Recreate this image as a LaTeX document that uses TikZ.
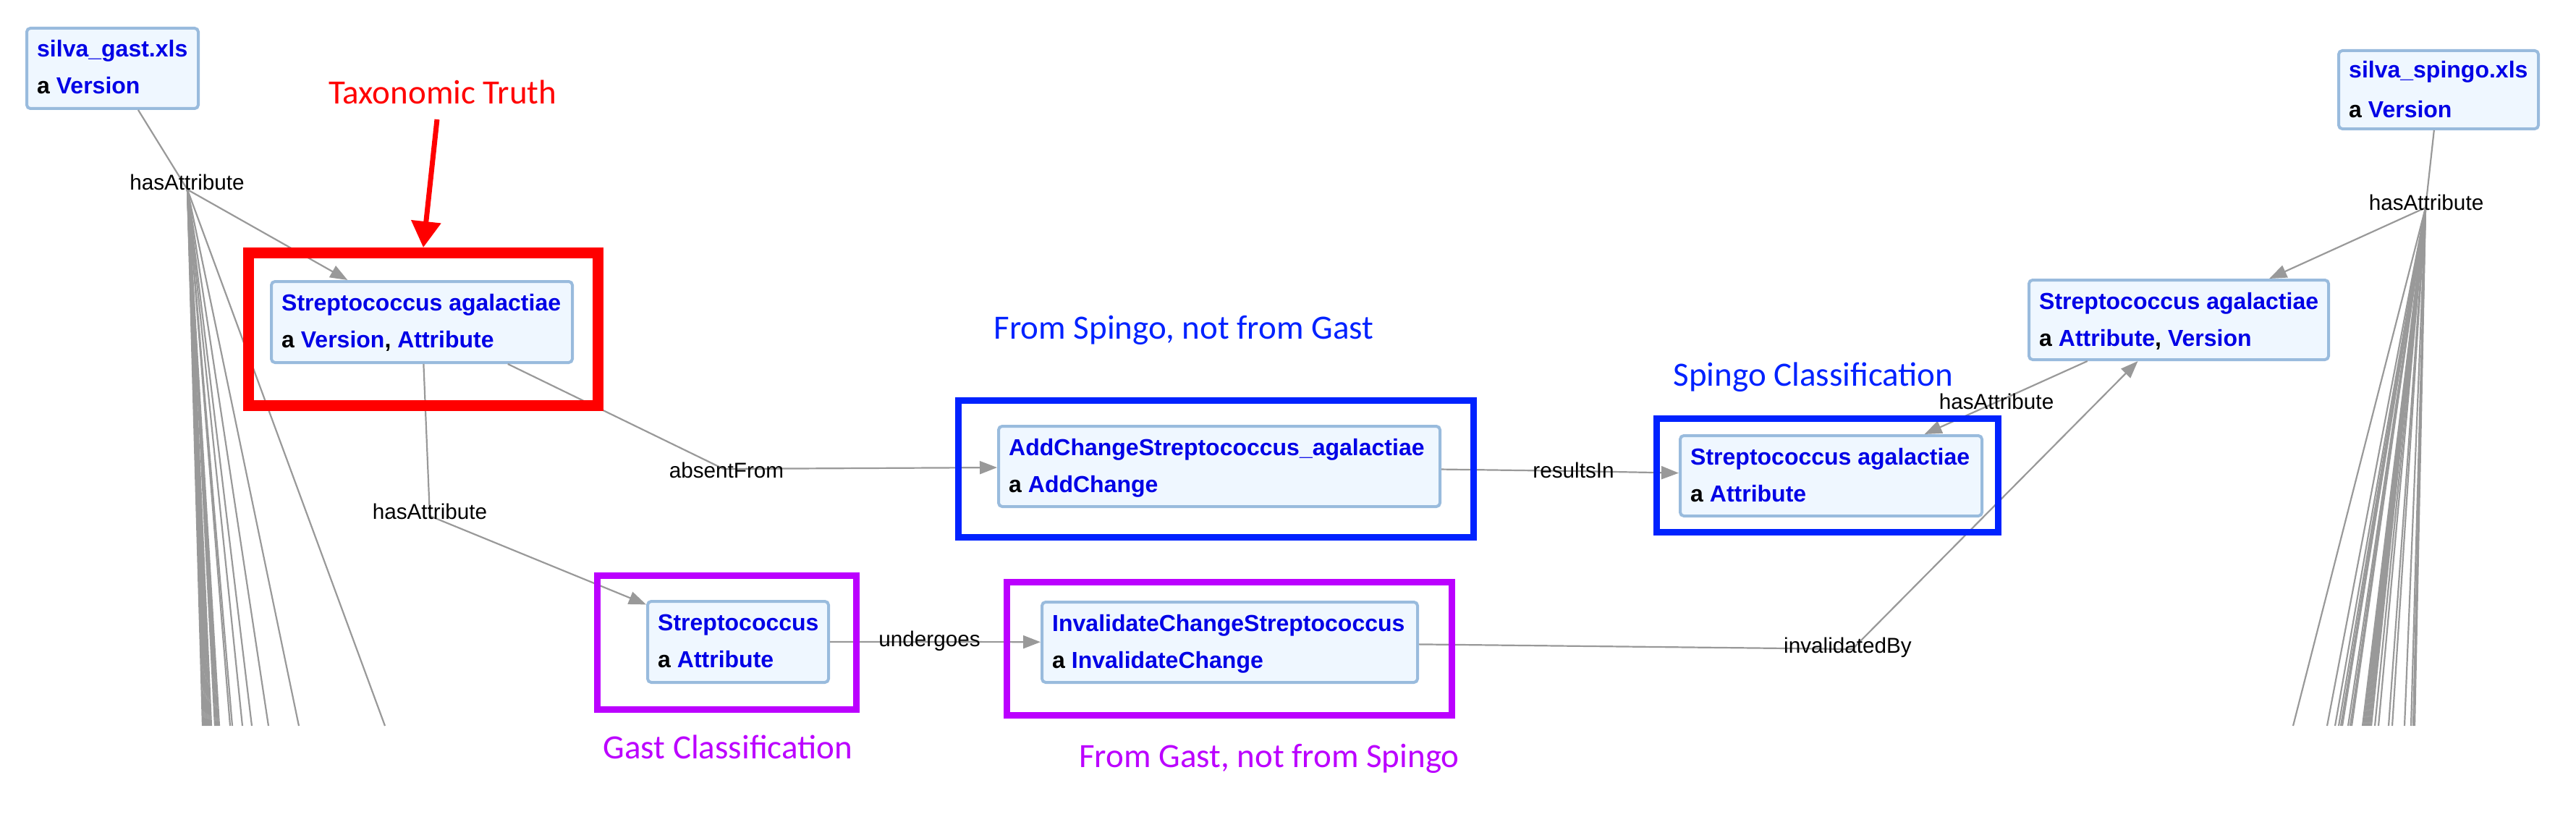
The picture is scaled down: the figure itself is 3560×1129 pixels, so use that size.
\documentclass[tikz,border=0pt]{standalone}
\usepackage{fontspec}
\setmainfont{Liberation Sans}
\newfontfamily\annfont{Carlito}
\usetikzlibrary{arrows.meta,calc}
\definecolor{nodeblue}{RGB}{0,0,230}
\definecolor{nodeborder}{RGB}{153,187,221}
\definecolor{nodefill}{RGB}{239,247,255}
\definecolor{edgegray}{RGB}{153,153,153}
\definecolor{annblue}{RGB}{0,34,255}
\definecolor{annpurple}{RGB}{187,0,255}
\definecolor{annred}{RGB}{255,0,0}
\begin{document}
\begin{tikzpicture}[x=1pt,y=-1pt,
  gnode/.style={draw=nodeborder, fill=nodefill, line width=4pt, rounded corners=5pt, inner sep=0pt, anchor=north west},
  ntext/.style={anchor=base west, inner sep=0pt, text=nodeblue, font=\fontsize{32}{38}\selectfont\bfseries},
  elabel/.style={anchor=base, inner sep=0pt, text=black, font=\fontsize{29.7}{34}\selectfont},
  edge/.style={draw=edgegray, line width=2.2pt},
  arr/.style={edge, -{Triangle[length=24pt,width=18pt]}},
  ann/.style={anchor=base, inner sep=0pt, font=\annfont\fontsize{47}{56}\selectfont},
  abox/.style={draw, line width=8.5pt, inner sep=0pt, fill=none}]
\useasboundingbox (0,0) rectangle (3560,1129);

% ---------- graph nodes ----------
\node[gnode, minimum width=237pt, minimum height=111pt] (gast) at (35,37) {};
\node[ntext] (gastA) at ($(gast.north west)+(16,42)$) {silva\_gast.xls};
\node[ntext] (gastB) at ($(gast.north west)+(16,93)$) {\textcolor{black}{a} Version};

\node[gnode, minimum width=416pt, minimum height=112pt] (redN) at (373,387) {};
\node[ntext] (redA) at ($(redN.north west)+(16,42)$) {Streptococcus agalactiae};
\node[ntext] (redB) at ($(redN.north west)+(16,93)$) {\textcolor{black}{a} Version\textcolor{black}{,} Attribute};

\node[gnode, minimum width=610pt, minimum height=111pt] (addN) at (1378,587) {};
\node[ntext] (addA) at ($(addN.north west)+(16,42)$) {AddChangeStreptococcus\_agalactiae};
\node[ntext] (addB) at ($(addN.north west)+(16,93)$) {\textcolor{black}{a} AddChange};

\node[gnode, minimum width=250pt, minimum height=112pt] (strepN) at (893,829) {};
\node[ntext] (strepA) at ($(strepN.north west)+(16,42)$) {Streptococcus};
\node[ntext] (strepB) at ($(strepN.north west)+(16,93)$) {\textcolor{black}{a} Attribute};

\node[gnode, minimum width=519pt, minimum height=111pt] (invN) at (1438,830) {};
\node[ntext] (invA) at ($(invN.north west)+(16,42)$) {InvalidateChangeStreptococcus};
\node[ntext] (invB) at ($(invN.north west)+(16,93)$) {\textcolor{black}{a} InvalidateChange};

\node[gnode, minimum width=417pt, minimum height=111pt] (spN) at (2320,600) {};
\node[ntext] (spA) at ($(spN.north west)+(16,42)$) {Streptococcus agalactiae};
\node[ntext] (spB) at ($(spN.north west)+(16,93)$) {\textcolor{black}{a} Attribute};

\node[gnode, minimum width=414pt, minimum height=110pt] (rightN) at (2802,385) {};
\node[ntext] (rightA) at ($(rightN.north west)+(16,42)$) {Streptococcus agalactiae};
\node[ntext] (rightB) at ($(rightN.north west)+(16,93)$) {\textcolor{black}{a} Attribute\textcolor{black}{,} Version};

\node[gnode, minimum width=276pt, minimum height=108pt] (spingo) at (3230,68) {};
\node[ntext] (spingoA) at ($(spingo.north west)+(16,40)$) {silva\_spingo.xls};
\node[ntext] (spingoB) at ($(spingo.north west)+(16,95)$) {\textcolor{black}{a} Version};

% ---------- bend points / labels ----------
\coordinate (b1) at (259,262);
\coordinate (b2) at (594,713);
\coordinate (b3) at (1000,648);
\coordinate (b4) at (2175,651);
\coordinate (b5) at (1284,887);
\coordinate (b6) at (2560,897);
\coordinate (b7) at (2765,553);
\coordinate (b8) at (3352,287);

% ---------- fans (cut off at the bottom) ----------
\foreach \x in {280,282,284,286,288,290,292,297,299,301,303,318,321,335,348,371,413,532}{
  \coordinate (lf\x) at (\x,1003);
  \draw[edge] (b1) -- (lf\x);
}
\foreach \x in {3169,3216,3227,3232,3235,3237,3245,3248,3250,3265,3267,3269,3271,3273,3275,3277,3282,3287,3301,3306,3323,3332,3335,3337}{
  \coordinate (rf\x) at (\x,1003);
  \draw[edge] (b8) -- (rf\x);
}

% ---------- edges ----------
\draw[arr] (gast) -- (b1) -- (redN);
\draw[arr] (redN) -- (b2) -- (strepN);
\draw[arr] (redN) -- (b3) -- (addN);
\draw[arr] (addN) -- (b4) -- (spN);
\draw[arr] (strepN) -- (b5) -- (invN);
\draw[arr] (invN) -- (b6) -- (rightN);
\draw[arr] (rightN) -- (b7) -- (spN);
\draw[arr] (spingo) -- (b8) -- (rightN);

\node[elabel] (l1) at (258.5,262) {hasAttribute};
\node[elabel] (l2) at (594,717) {hasAttribute};
\node[elabel] (l3) at (1004,660) {absentFrom};
\node[elabel] (l4) at (2174.5,660) {resultsIn};
\node[elabel] (l5) at (1284.5,893) {undergoes};
\node[elabel] (l6) at (2553.5,902) {invalidatedBy};
\node[elabel] (l7) at (2759,565) {hasAttribute};
\node[elabel] (l8) at (3353,290) {hasAttribute};

% ---------- annotation boxes ----------
\node[abox, draw=annred, line width=15pt, minimum width=483pt, minimum height=211pt] (redbox) at (585,455) {};
\node[abox, draw=annblue, minimum width=712pt, minimum height=189pt] (bluebox1) at (1680.5,648) {};
\node[abox, draw=annblue, minimum width=472pt, minimum height=157pt] (bluebox2) at (2525.5,657) {};
\node[abox, draw=annpurple, minimum width=358pt, minimum height=185pt] (purpbox1) at (1004.5,888) {};
\node[abox, draw=annpurple, minimum width=615pt, minimum height=184pt] (purpbox2) at (1699,896.5) {};

% ---------- annotation texts ----------
\node[ann, text=annred] (taxo) at (612,143) {Taxonomic Truth};
\node[ann, text=annblue] (fromSp) at (1636,468) {From Spingo, not from Gast};
\node[ann, text=annblue] (spClass) at (2506,533) {Spingo Classification};
\node[ann, text=annpurple] (gaClass) at (1006,1048) {Gast Classification};
\node[ann, text=annpurple] (fromGa) at (1754,1060) {From Gast, not from Spingo};

\coordinate (taxoS) at (604,165);
\draw[annred, line width=7pt, -{Triangle[length=36pt,width=40pt]}] (taxoS) -- (redbox.north);
\end{tikzpicture}
\end{document}
